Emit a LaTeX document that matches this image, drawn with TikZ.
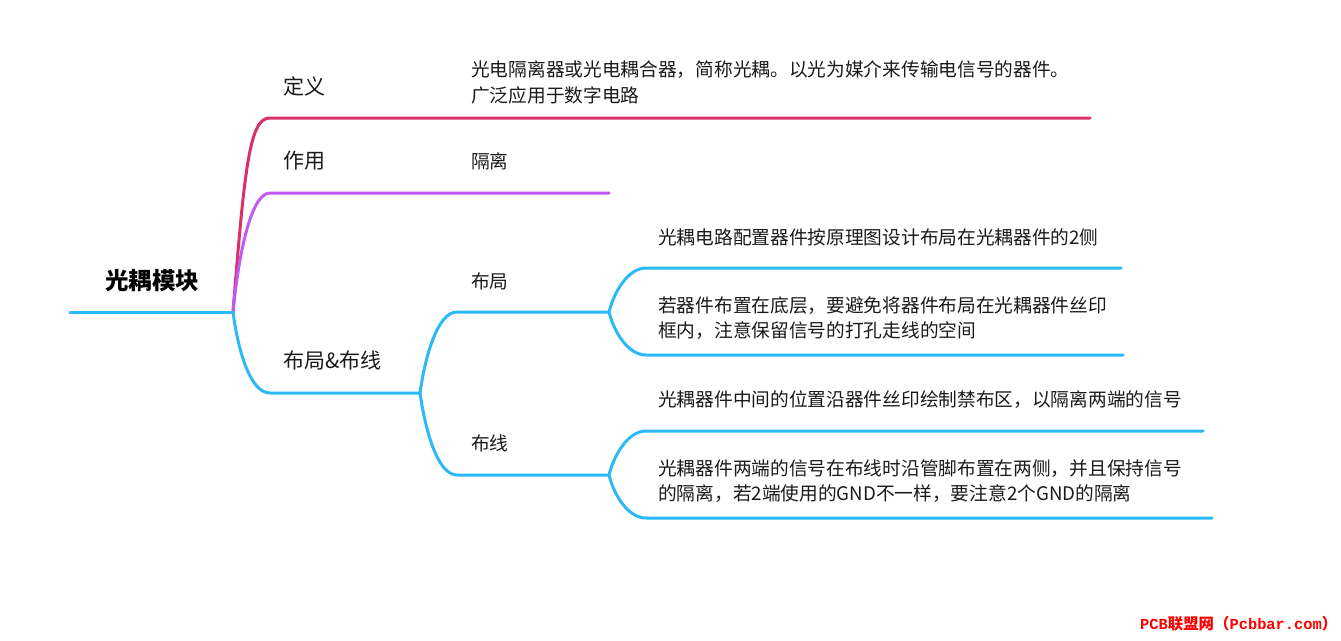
\documentclass[tikz,border=0pt]{standalone}
\usepackage{fontspec}
\setmainfont{Noto Sans CJK SC}
\newfontfamily\wmlatin{Liberation Mono}
\newfontfamily\wmcjk{Noto Sans CJK SC}
\definecolor{cy}{HTML}{2BB9F8}
\definecolor{cr}{HTML}{D93068}
\definecolor{pu}{HTML}{C25AF4}
\definecolor{tx}{HTML}{1A1A1A}
\begin{document}
\begin{tikzpicture}[x=1pt,y=-1pt,
  br/.style={line width=3pt, line cap=round, line join=round},
  rootlab/.style={inner sep=0, font=\fontsize{23.5}{27}\selectfont\bfseries, text=black},
  lab/.style={anchor=west, inner sep=0, font=\fontsize{21}{25}\selectfont, text=tx},
  leaf/.style={anchor=west, inner sep=0, align=left, font=\fontsize{18.7}{25.5}\selectfont, text=tx},
  wm/.style={anchor=west, inner sep=0, text=red, font=\fontsize{15.4}{18}\selectfont\bfseries}]
\useasboundingbox (0,0) rectangle (1341,640);
% junction coordinates
\coordinate (r0) at (70,312);
\coordinate (r) at (233,312);
\coordinate (a0) at (270,118); \coordinate (a1) at (1090,118);
\coordinate (b0) at (270,193); \coordinate (b1) at (609,193);
\coordinate (c0) at (270,393); \coordinate (c1) at (420,393);
\coordinate (c10) at (457,312); \coordinate (c11) at (609,312);
\coordinate (c20) at (457,475); \coordinate (c21) at (609,475);
\coordinate (l1a) at (646,268); \coordinate (l1b) at (1121,268);
\coordinate (l2a) at (646,355); \coordinate (l2b) at (1123,355);
\coordinate (l3a) at (646,431); \coordinate (l3b) at (1203,431);
\coordinate (l4a) at (646,518); \coordinate (l4b) at (1212,518);
% branches
\draw[br, cr] (r) .. controls +(12,-150) and +(-20,0) .. (a0) -- (a1);
\draw[br, pu] (r) .. controls +(5,-52) and +(-20,0) .. (b0) -- (b1);
\draw[br, cy] (r0) -- (r);
\draw[br, cy] (r) .. controls +(5,38) and +(-20,0) .. (c0) -- (c1);
\draw[br, cy] (c1) .. controls +(5,-35) and +(-20,0) .. (c10) -- (c11);
\draw[br, cy] (c1) .. controls +(5,35) and +(-20,0) .. (c20) -- (c21);
\draw[br, cy] (c11) .. controls +(5,-20) and +(-18,0) .. (l1a) -- (l1b);
\draw[br, cy] (c11) .. controls +(5,20) and +(-18,0) .. (l2a) -- (l2b);
\draw[br, cy] (c21) .. controls +(5,-20) and +(-18,0) .. (l3a) -- (l3b);
\draw[br, cy] (c21) .. controls +(5,20) and +(-18,0) .. (l4a) -- (l4b);
% texts
\node[rootlab] (root) at (152,281) {光耦模块};
\node[lab] (def) at (283,86) {定义};
\node[lab] (use) at (283,161) {作用};
\node[lab] (lay) at (283,361) {布局\&布线};
\node[leaf] (deft) at (471,82.5) {光电隔离器或光电耦合器，简称光耦。以光为媒介来传输电信号的器件。\\广泛应用于数字电路};
\node[leaf] (uset) at (471,161) {隔离};
\node[leaf] (bj) at (471,281) {布局};
\node[leaf] (bx) at (471,443) {布线};
\node[leaf] (t1) at (658,237) {光耦电路配置器件按原理图设计布局在光耦器件的2侧};
\node[leaf] (t2) at (658,318) {若器件布置在底层，要避免将器件布局在光耦器件丝印\\框内，注意保留信号的打孔走线的空间};
\node[leaf] (t3) at (658,400) {光耦器件中间的位置沿器件丝印绘制禁布区，以隔离两端的信号};
\node[leaf] (t4) at (658,481) {光耦器件两端的信号在布线时沿管脚布置在两侧，并且保持信号\\的隔离，若2端使用的GND不一样，要注意2个GND的隔离};
\node[wm] (wmk) at (1140,624) {\wmlatin PCB\wmcjk 联盟网（\wmlatin Pcbbar.com\wmcjk ）};
\end{tikzpicture}
\end{document}
